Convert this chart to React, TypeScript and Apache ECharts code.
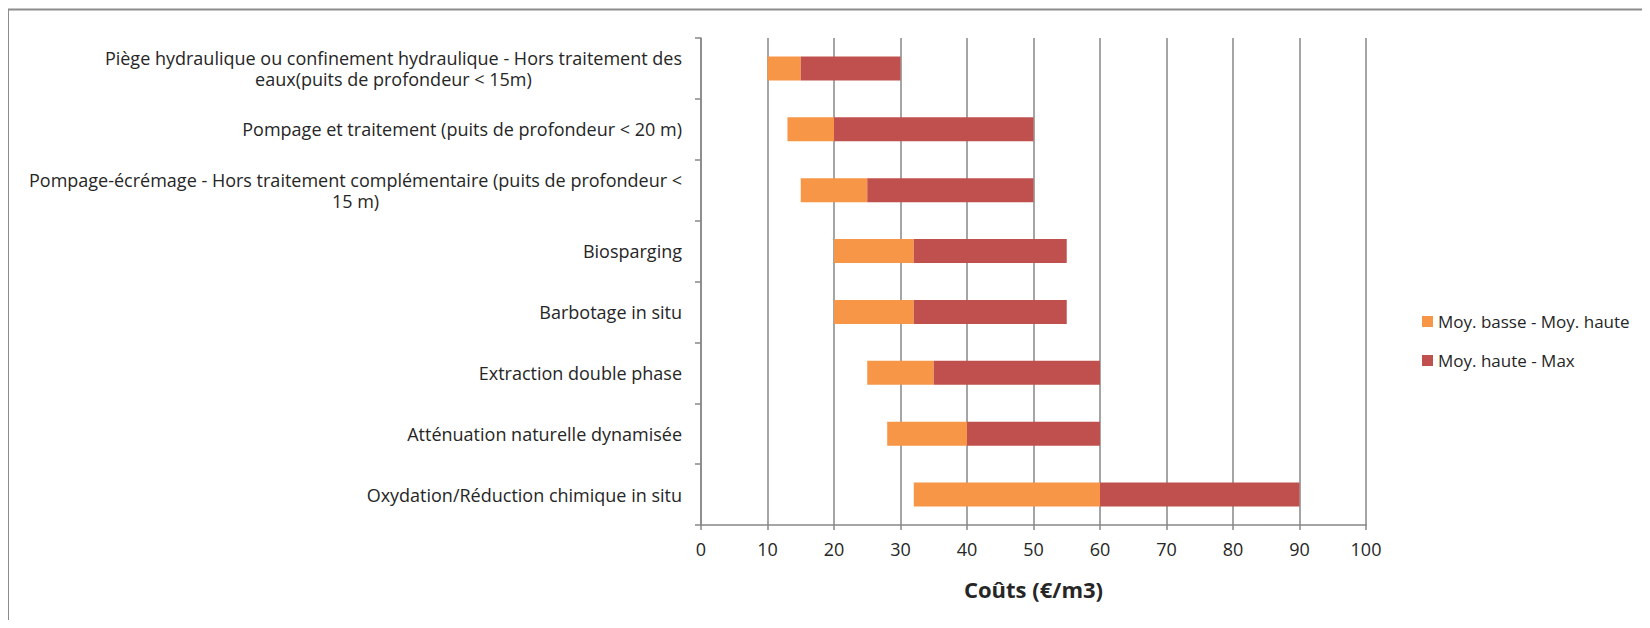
import React, { useEffect, useRef } from "react";
import * as echarts from "echarts";

const categories = [
  "Piège hydraulique ou confinement hydraulique - Hors traitement des\neaux(puits de profondeur < 15m)",
  "Pompage et traitement (puits de profondeur < 20 m)",
  "Pompage-écrémage - Hors traitement complémentaire (puits de profondeur <\n15 m)",
  "Biosparging",
  "Barbotage in situ",
  "Extraction double phase",
  "Atténuation naturelle dynamisée",
  "Oxydation/Réduction chimique in situ",
];
const lowValues = [10, 13, 15, 20, 20, 25, 28, 32];
const midValues = [15, 20, 25, 32, 32, 35, 40, 60];
const maxValues = [30, 50, 50, 55, 55, 60, 60, 90];
const seriesNames = ["Moy. basse - Moy. haute", "Moy. haute - Max"];
const axisTitle = "Coûts (€/m3)";

export default function App() {
  const ref = useRef<HTMLDivElement>(null);
  useEffect(() => {
    const chart = echarts.init(ref.current!, null, { renderer: "svg" });
    const font = "Open Sans";
    const fs = 18;
    const grey = "#878787";
    const txt = "#262626";
    chart.setOption({
      animation: false,
      textStyle: { fontFamily: font },
      graphic: [
        {
          type: "rect",
          silent: true,
          z: 100,
          shape: { x: 0, y: 1.5, width: 3000, height: 3000 },
          style: { fill: "none", stroke: "#8c8c8c", lineWidth: 2 },
        },
      ],
      legend: {
        orient: "vertical",
        left: 1409,
        top: 300,
        itemWidth: 11,
        itemHeight: 11,
        itemGap: 22,
        icon: "rect",
        data: seriesNames,
        textStyle: { fontSize: 17, color: txt, fontFamily: font },
      },
      grid: { left: 693, right: 284, top: 30, bottom: 95, containLabel: false, outerBoundsMode: "none" },
      xAxis: {
        type: "value",
        min: 0,
        max: 100,
        interval: 10,
        name: axisTitle,
        nameLocation: "middle",
        nameGap: 53,
        nameTextStyle: { fontSize: 22, fontWeight: "bold", color: txt, fontFamily: font },
        axisLine: { show: true, lineStyle: { color: grey, width: 1.5 } },
        axisTick: { show: true, length: 5, lineStyle: { color: grey, width: 1.5 } },
        axisLabel: { fontSize: fs, color: txt, margin: 15, fontFamily: font },
        splitLine: { show: true, lineStyle: { color: grey, width: 1.5 } },
      },
      yAxis: {
        type: "category",
        inverse: true,
        data: categories,
        axisLine: { show: true, lineStyle: { color: grey, width: 1.5 } },
        axisTick: { show: true, length: 6, alignWithLabel: false, lineStyle: { color: grey, width: 1.5 } },
        splitLine: { show: false },
        axisLabel: {
          fontSize: fs,
          color: txt,
          margin: 19,
          fontFamily: font,
          lineHeight: 21,
          formatter: (v: string) => {
            if (v.indexOf("\n") < 0) return v;
            return v
              .split("\n")
              .map((l) => "{c|" + l + "}")
              .join("\n");
          },
          rich: {
            c: { align: "center", fontSize: fs, color: txt, fontFamily: font, lineHeight: 21 },
          },
        },
      },
      series: [
        {
          type: "bar",
          stack: "s",
          barWidth: 24,
          silent: true,
          itemStyle: { color: "transparent" },
          data: lowValues,
        },
        {
          type: "bar",
          name: seriesNames[0],
          stack: "s",
          barWidth: 24,
          itemStyle: { color: "#F79646" },
          data: midValues.map((m, i) => m - lowValues[i]),
        },
        {
          type: "bar",
          name: seriesNames[1],
          stack: "s",
          barWidth: 24,
          itemStyle: { color: "#C0504D" },
          data: maxValues.map((m, i) => m - midValues[i]),
        },
      ],
    });
    return () => chart.dispose();
  }, []);
  return <div ref={ref} style={{ width: 1642, height: 612 }} />;
}
